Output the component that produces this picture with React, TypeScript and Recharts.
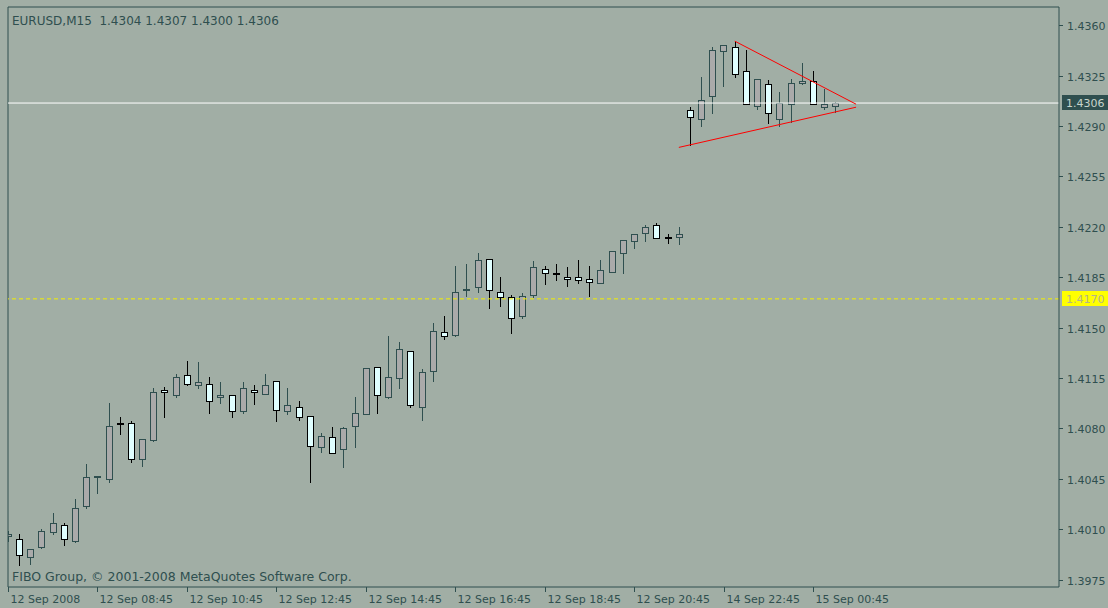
import React from "react";
import { Bar, ComposedChart, ReferenceLine, XAxis, YAxis } from "recharts";

document.body.style.margin = "0";

// EURUSD M15 bars, 12 Sep 06:45 .. 15 Sep 01:15 (weekend gap collapsed)
const opens = [
  1.4005, 1.4003, 1.3991, 1.3998, 1.4008, 1.4013, 1.4002, 1.4026, 1.4046, 1.4045,
  1.4084, 1.4084, 1.4059, 1.4072, 1.4107, 1.4103, 1.4117, 1.4110, 1.4111, 1.4102,
  1.4103, 1.4092, 1.4107, 1.4104, 1.4113, 1.4092, 1.4095, 1.4089, 1.4067, 1.4074,
  1.4066, 1.4082, 1.4090, 1.4123, 1.4102, 1.4115, 1.4134, 1.4095, 1.4120, 1.4147,
  1.4145, 1.4176, 1.4178, 1.4198, 1.4175, 1.4171, 1.4158, 1.4173, 1.4191, 1.4188,
  1.4185, 1.4185, 1.4184, 1.4181, 1.4189, 1.4202, 1.4210, 1.4216, 1.4221, 1.4213,
  1.4213, 1.4301, 1.4295, 1.4311, 1.4342, 1.4345, 1.4328, 1.4304, 1.4319, 1.4295,
  1.4305, 1.4320, 1.4321, 1.4303, 1.4304,
];
const highs = [
  1.4009, 1.4007, 1.3996, 1.4010, 1.4021, 1.4014, 1.4031, 1.4055, 1.4047, 1.4098,
  1.4088, 1.4085, 1.4073, 1.4108, 1.4109, 1.4118, 1.4127, 1.4126, 1.4116, 1.4112,
  1.4103, 1.4112, 1.4110, 1.4118, 1.4113, 1.4108, 1.4099, 1.4089, 1.4077, 1.4081,
  1.4081, 1.4102, 1.4122, 1.4123, 1.4144, 1.4140, 1.4134, 1.4121, 1.4153, 1.4158,
  1.4193, 1.4194, 1.4202, 1.4198, 1.4185, 1.4173, 1.4174, 1.4196, 1.4193, 1.4194,
  1.4192, 1.4197, 1.4193, 1.4197, 1.4203, 1.4211, 1.4215, 1.4221, 1.4223, 1.4215,
  1.4220, 1.4303, 1.4324, 1.4345, 1.4346, 1.4349, 1.4343, 1.4323, 1.4322, 1.4314,
  1.4323, 1.4334, 1.4328, 1.4316, 1.4307,
];
const lows = [
  1.4002, 1.3985, 1.3986, 1.3997, 1.4007, 1.3999, 1.4001, 1.4025, 1.4035, 1.4043,
  1.4076, 1.4057, 1.4054, 1.4071, 1.4088, 1.4102, 1.4110, 1.4108, 1.4091, 1.4098,
  1.4088, 1.4091, 1.4097, 1.4104, 1.4085, 1.4090, 1.4086, 1.4043, 1.4064, 1.4063,
  1.4053, 1.4067, 1.4090, 1.4091, 1.4101, 1.4108, 1.4095, 1.4086, 1.4113, 1.4142,
  1.4144, 1.4172, 1.4175, 1.4164, 1.4165, 1.4146, 1.4157, 1.4171, 1.4180, 1.4183,
  1.4179, 1.4181, 1.4172, 1.4181, 1.4189, 1.4188, 1.4205, 1.4210, 1.4212, 1.4209,
  1.4208, 1.4277, 1.4290, 1.4299, 1.4318, 1.4324, 1.4305, 1.4302, 1.4292, 1.4290,
  1.4293, 1.4319, 1.4305, 1.4302, 1.4300,
];
const closes = [
  1.4007, 1.3992, 1.3996, 1.4009, 1.4014, 1.4003, 1.4025, 1.4046, 1.4047, 1.4082,
  1.4083, 1.4059, 1.4073, 1.4105, 1.4105, 1.4116, 1.4111, 1.4112, 1.4099, 1.4103,
  1.4092, 1.4108, 1.4105, 1.4110, 1.4093, 1.4096, 1.4088, 1.4068, 1.4075, 1.4063,
  1.4080, 1.4091, 1.4122, 1.4103, 1.4116, 1.4135, 1.4096, 1.4119, 1.4148, 1.4144,
  1.4175, 1.4177, 1.4197, 1.4176, 1.4171, 1.4157, 1.4172, 1.4192, 1.4188, 1.4187,
  1.4184, 1.4183, 1.4182, 1.4190, 1.4203, 1.4211, 1.4215, 1.4220, 1.4212, 1.4212,
  1.4215, 1.4296, 1.4308, 1.4343, 1.4346, 1.4326, 1.4305, 1.4323, 1.4299, 1.4306,
  1.4320, 1.4321, 1.4305, 1.4305, 1.4306,
];

const xTicks = [0, 8, 16, 24, 32, 40, 48, 56, 64, 72];
const xTickLabels = [
  "12 Sep 2008", "12 Sep 08:45", "12 Sep 10:45", "12 Sep 12:45", "12 Sep 14:45",
  "12 Sep 16:45", "12 Sep 18:45", "12 Sep 20:45", "14 Sep 22:45", "15 Sep 00:45",
];
const yTicks = [
  1.436, 1.4325, 1.429, 1.4255, 1.422, 1.4185, 1.415, 1.4115, 1.408, 1.4045, 1.401, 1.3975,
];
const yDomain = [1.39699, 1.43727];
const xDomain = [0, 94];

const bidPrice = 1.4306;
const levelPrice = 1.417;
const upperTrend = [{ x: 65, y: 1.4349 }, { x: 75.85, y: 1.43052 }];
const lowerTrend = [{ x: 60, y: 1.42752 }, { x: 75.85, y: 1.43031 }];
const header = "EURUSD,M15  1.4304 1.4307 1.4300 1.4306";
const copyright = "FIBO Group, \u00a9 2001-2008 MetaQuotes Software Corp.";

const BG = "#a1aea5";
const INK = "#2f4f4f";
const FONT = "'DejaVu Sans', sans-serif";

const rows = opens.map((o, i) => ({
  i,
  open: o,
  high: highs[i],
  low: lows[i],
  close: closes[i],
  range: [lows[i], highs[i]],
}));

function Candle(props: any) {
  const { x, y, width, height, payload } = props;
  const { open, close, high, low } = payload;
  const top = Math.min(y, y + height);
  const bottom = Math.max(y, y + height);
  const ppu = high === low ? 0 : (bottom - top) / (high - low);
  const py = (v: number) => top + (high - v) * ppu;
  const bull = close >= open;
  const stroke = bull ? INK : "#000000";
  const fill = bull ? "#aaaaaa" : "#e0ffff";
  const cx = Math.round(x + width / 2) + 0.5;
  const bt = Math.round(Math.min(py(open), py(close))) + 0.5;
  const bb = Math.round(Math.max(py(open), py(close))) + 0.5;
  return (
    <g>
      <line x1={cx} x2={cx} y1={Math.round(top)} y2={Math.round(bottom) + 1} stroke={stroke} strokeWidth={1} />
      {bb - bt < 2 ? (
        <rect x={cx - 3.5} y={bt - 0.5} width={7} height={2} fill={stroke} />
      ) : (
        <rect x={cx - 3} y={bt} width={6} height={bb - bt} fill={fill} stroke={stroke} strokeWidth={1} />
      )}
    </g>
  );
}

function XTick(props: any) {
  const { x, y, payload } = props;
  const px = Math.round(x) + 0.5;
  const label = xTickLabels[xTicks.indexOf(payload.value)];
  return (
    <g>
      <line x1={px} x2={px} y1={y} y2={y + 5} stroke={INK} />
      <text x={px + 2} y={y + 16} fill={INK} fontSize={11} fontFamily={FONT}>
        {label}
      </text>
    </g>
  );
}

function YTick(props: any) {
  const { x, y, payload } = props;
  const py = Math.round(y) + 0.5;
  return (
    <g>
      <line x1={x} x2={x + 4} y1={py} y2={py} stroke={INK} />
      <text x={x + 8} y={py + 4} fill={INK} fontSize={11} fontFamily={FONT}>
        {payload.value.toFixed(4)}
      </text>
    </g>
  );
}

function PriceTag(props: any) {
  const { viewBox, text, bg, color } = props;
  const ly = Math.round(viewBox.y);
  const rx = viewBox.x + viewBox.width + 3;
  return (
    <g>
      <rect x={rx} y={ly - 8} width={46} height={15} fill={bg} />
      <text x={rx + 4} y={ly + 4} fill={color} fontSize={11} fontFamily={FONT}>
        {text}
      </text>
    </g>
  );
}

export default function App() {
  return (
    <div style={{ position: "relative", width: 1108, height: 608, background: BG, overflow: "hidden" }}>
      <ComposedChart
        width={1108}
        height={608}
        data={rows}
        margin={{ top: 7, right: 0, bottom: 0, left: 8 }}
      >
        <XAxis
          dataKey="i"
          type="number"
          domain={xDomain}
          ticks={xTicks}
          interval={0}
          allowDataOverflow
          height={21}
          tickSize={0}
          tickMargin={0}
          tick={<XTick />}
          axisLine={{ stroke: INK, strokeWidth: 1 }}
        />
        <YAxis
          orientation="right"
          type="number"
          domain={yDomain}
          ticks={yTicks}
          interval={0}
          allowDataOverflow
          width={49}
          tickSize={0}
          tickMargin={0}
          tick={<YTick />}
          axisLine={{ stroke: INK, strokeWidth: 1 }}
        />
        <ReferenceLine y={yDomain[1]} stroke={INK} />
        <ReferenceLine x={xDomain[0]} stroke={INK} />
        <ReferenceLine
          y={levelPrice}
          stroke="#f4f000"
          strokeDasharray="4 3"
          label={(p: any) => <PriceTag {...p} text="1.4170" bg="#ffff00" color="#b4b48a" />}
        />
        <ReferenceLine
          y={bidPrice}
          stroke="#ffffff"
          label={(p: any) => <PriceTag {...p} text="1.4306" bg={INK} color="#c8d4cc" />}
        />
        <Bar dataKey="range" barSize={7} isAnimationActive={false} shape={(p: any) => <Candle {...p} />} />
        <ReferenceLine segment={upperTrend} stroke="#ff0000" />
        <ReferenceLine segment={lowerTrend} stroke="#ff0000" />
      </ComposedChart>
      <div
        style={{
          position: "absolute", left: 12, top: 14, fontFamily: FONT, fontSize: 12,
          lineHeight: "14px", color: INK, whiteSpace: "pre",
        }}
      >
        {header}
      </div>
      <div
        style={{
          position: "absolute", left: 12, top: 570, fontFamily: FONT, fontSize: 12.5,
          lineHeight: "14px", color: INK, whiteSpace: "pre",
        }}
      >
        {copyright}
      </div>
    </div>
  );
}
